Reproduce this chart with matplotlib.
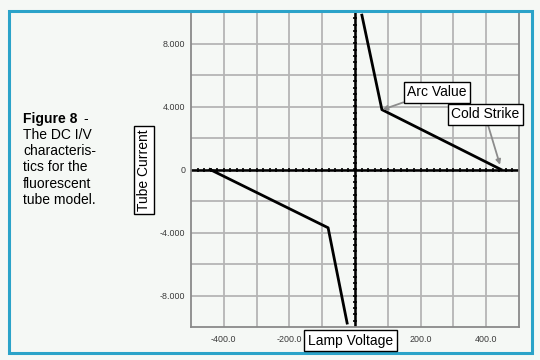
import numpy as np
import matplotlib
matplotlib.use("Agg")
import matplotlib.pyplot as plt
from matplotlib.patches import Rectangle

plt.rcParams['font.family'] = ['Liberation Sans', 'DejaVu Sans']

# DC I/V characteristic of the tube model
upper_v = [21, 82, 445]
upper_i = [9.8, 3.8, 0.0]
lower_v = [-24, -82, -442]
lower_i = [-9.75, -3.7, 0.0]

x_ticks = [-400, -200, 200, 400]
x_labels = ["-400.0", "-200.0", "200.0", "400.0"]
y_ticks = [-8, -4, 0, 4, 8]
y_labels = ["-8.000", "-4.000", "0", "4.000", "8.000"]

bg = "#f5f8f5"
fig = plt.figure(figsize=(5.4, 3.6), dpi=100, facecolor=bg)
fig.patches.append(Rectangle((9 / 540, 7 / 360), 523 / 540, 342 / 360,
                             transform=fig.transFigure, fill=False,
                             edgecolor="#2ba3c9", lw=2.2, zorder=0))

ax = fig.add_axes([191 / 540, 33 / 360, 328 / 540, 315 / 360])
ax.set_facecolor(bg)
ax.set_xlim(-500, 500)
ax.set_ylim(-10, 10)

# grid
for gx in np.arange(-400, 500, 100):
    ax.axvline(gx, color="#b5b5b5", lw=1.3, zorder=1)
for gy in np.arange(-8, 10, 2):
    ax.axhline(gy, color="#b5b5b5", lw=1.3, zorder=1)

# axes through origin with small ticks
ax.axhline(0, color="black", lw=1.8, zorder=2)
ax.axvline(0, color="black", lw=1.8, zorder=2)
tx = np.arange(-480, 500, 20)
ax.plot(tx, np.zeros_like(tx), ls="none", marker="|", ms=3.5, mew=1.2,
        color="black", zorder=2)
ty = np.arange(-9.6, 10, 0.4)
ax.plot(np.zeros_like(ty), ty, ls="none", marker="_", ms=3.5, mew=1.2,
        color="black", zorder=2)

ax.plot(upper_v, upper_i, color="black", lw=2, zorder=3)
ax.plot(lower_v, lower_i, color="black", lw=2, zorder=3)

for s in ax.spines.values():
    s.set_color("#8a8a8a")
    s.set_linewidth(1.3)

ax.set_xticks(x_ticks)
ax.set_xticklabels(x_labels)
ax.set_yticks(y_ticks)
ax.set_yticklabels(y_labels)
ax.tick_params(length=0, labelsize=6.4, labelcolor="#3a3a3a")
ax.tick_params(axis="x", pad=6)
ax.tick_params(axis="y", pad=4)

box = dict(boxstyle="square,pad=0.25", fc="white", ec="black", lw=1)
arrow = dict(arrowstyle="-|>", color="#8c8c8c", lw=1.3, mutation_scale=7,
             shrinkA=0, shrinkB=0)
ax.annotate("Arc Value", xy=(84, 3.8), xytext=(250, 4.9), fontsize=10,
            ha="center", va="center", bbox=box, zorder=5,
            arrowprops=dict(arrow, relpos=(0.08, 0.0)))
ax.annotate("Cold Strike", xy=(442, 0.3), xytext=(398, 3.5), fontsize=10,
            ha="center", va="center", bbox=box, zorder=5,
            arrowprops=dict(arrow, relpos=(0.52, 0.0)))

fig.text(350.5 / 540, 1 - 340.5 / 360, "Lamp Voltage", fontsize=10,
         ha="center", va="center", bbox=box, zorder=6)
fig.text(144 / 540, 1 - 170 / 360, "Tube Current", fontsize=10,
         rotation=90, ha="center", va="center", bbox=box)

fig.text(23 / 540, 1 - 112 / 360, "Figure 8", fontsize=10, weight="bold",
         ha="left", va="top")
fig.text(83 / 540, 1 - 112 / 360, "-", fontsize=10, ha="left", va="top")
fig.text(23 / 540, 1 - 128 / 360,
         "The DC I/V\ncharacteris-\ntics for the\nfluorescent\ntube model.",
         fontsize=10, ha="left", va="top", linespacing=1.2)

fig.savefig("out.png", dpi=100, facecolor=bg)
